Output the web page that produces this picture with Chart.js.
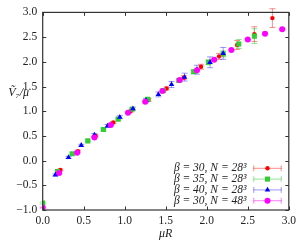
<!DOCTYPE html>
<html><head><meta charset="utf-8">
<script src="https://cdn.jsdelivr.net/npm/chart.js@4/dist/chart.umd.min.js"></script>
<style>html,body{margin:0;padding:0;background:#fff;}canvas{display:block;}</style>
</head><body>
<canvas id="c" width="300" height="240"></canvas>
<script>
// ---- data ----
const xTicks = [0, 0.5, 1, 1.5, 2, 2.5, 3];
const xTickLabels = ['0.0', '0.5', '1.0', '1.5', '2.0', '2.5', '3.0'];
const yTicks = [-1, -0.5, 0, 0.5, 1, 1.5, 2, 2.5, 3];
const yTickLabels = ['−1.0', '−0.5', '0.0', '0.5', '1.0', '1.5', '2.0', '2.5', '3.0'];
const xTitle = 'μR';
const yTitle = 'Ṽ₇/μ';
const seriesLabels = ['β = 30, N = 28³', 'β = 35, N = 28³', 'β = 40, N = 28³', 'β = 30, N = 48³'];

const redX   = [0.215, 0.43, 0.645, 0.86, 1.07, 1.29, 1.51, 1.72, 1.93, 2.15, 2.37, 2.58, 2.80];
const redY   = [-0.19, 0.19, 0.50, 0.77, 1.00, 1.23, 1.46, 1.68, 1.90, 2.11, 2.34, 2.56, 2.885];
const redErr = [0.02, 0.02, 0.02, 0.02, 0.02, 0.03, 0.03, 0.04, 0.05, 0.06, 0.09, 0.15, 0.19];

const greenX   = [0.0, 0.18, 0.36, 0.55, 0.74, 0.92, 1.09, 1.28, 1.47, 1.66, 1.84, 2.02, 2.20, 2.39, 2.58];
const greenY   = [-0.86, -0.22, 0.14, 0.40, 0.63, 0.84, 1.04, 1.24, 1.42, 1.62, 1.80, 1.99, 2.16, 2.36, 2.52];
const greenErr = [0.02, 0.02, 0.02, 0.02, 0.02, 0.02, 0.02, 0.03, 0.03, 0.03, 0.04, 0.05, 0.06, 0.09, 0.15];

const blueX   = [0.155, 0.315, 0.47, 0.63, 0.79, 0.94, 1.10, 1.26, 1.41, 1.57, 1.73, 1.88, 2.04, 2.20];
const blueY   = [-0.29, 0.065, 0.31, 0.52, 0.70, 0.88, 1.05, 1.22, 1.34, 1.54, 1.69, 1.84, 1.99, 2.17];
const blueErr = [0.02, 0.02, 0.02, 0.03, 0.03, 0.03, 0.03, 0.04, 0.05, 0.06, 0.08, 0.09, 0.11, 0.12];

const magX   = [0.0, 0.20, 0.42, 0.63, 0.83, 1.04, 1.25, 1.46, 1.67, 1.88, 2.09, 2.30, 2.50, 2.71, 2.92];
const magY   = [-0.95, -0.25, 0.16, 0.47, 0.72, 0.97, 1.19, 1.41, 1.63, 1.83, 2.04, 2.24, 2.45, 2.57, 2.66];
const magErr = [0.01, 0.01, 0.01, 0.01, 0.01, 0.01, 0.01, 0.01, 0.01, 0.01, 0.01, 0.01, 0.01, 0.01, 0.01];

// ---- styles ----
const FONT = '"Liberation Serif", "DejaVu Serif", serif';
const styles = [
  { color: '#ff0000', err: 'rgba(255,0,0,0.45)',   style: 'circle',   r: 2.2 },
  { color: '#33cc33', err: 'rgba(51,204,51,0.5)',  style: 'rect',     r: 3.6 },
  { color: '#0000ff', err: 'rgba(0,0,255,0.4)',    style: 'triangle', r: 3.2 },
  { color: '#ff00ff', err: 'rgba(255,0,255,0.5)',  style: 'circle',   r: 3.0 }
];
const seriesX = [redX, greenX, blueX, magX];
const seriesY = [redY, greenY, blueY, magY];
const seriesE = [redErr, greenErr, blueErr, magErr];

const datasets = seriesLabels.map((lab, i) => ({
  label: lab,
  data: seriesX[i].map((x, j) => ({ x: x, y: seriesY[i][j], e: seriesE[i][j] })),
  showLine: false,
  pointStyle: styles[i].style,
  pointRadius: styles[i].r,
  pointHoverRadius: styles[i].r,
  pointBackgroundColor: styles[i].color,
  pointBorderColor: styles[i].color,
  pointBorderWidth: 0,
  backgroundColor: styles[i].color,
  borderColor: styles[i].color,
  order: 4 - i
}));

function marker(ctx, style, r, x, y, color) {
  ctx.save();
  ctx.fillStyle = color;
  ctx.beginPath();
  if (style === 'circle') {
    ctx.arc(x, y, r, 0, Math.PI * 2);
  } else if (style === 'rect') {
    const s = Math.SQRT1_2 * r;
    ctx.rect(x - s, y - s, 2 * s, 2 * s);
  } else {
    const h = r * 1.5, w = r * Math.sqrt(3) / 2;
    ctx.moveTo(x, y - r);
    ctx.lineTo(x + w * 1.0, y + r / 2);
    ctx.lineTo(x - w * 1.0, y + r / 2);
    ctx.closePath();
  }
  ctx.fill();
  ctx.restore();
}

const errorBars = {
  id: 'errorBars',
  beforeDatasetsDraw(chart) {
    const ctx = chart.ctx, xs = chart.scales.x, ys = chart.scales.y;
    ctx.save();
    ctx.lineWidth = 1;
    chart.data.datasets.forEach((ds, i) => {
      ctx.strokeStyle = styles[i].err;
      ds.data.forEach(p => {
        const px = xs.getPixelForValue(p.x);
        const y1 = ys.getPixelForValue(p.y - p.e);
        const y2 = ys.getPixelForValue(p.y + p.e);
        ctx.beginPath();
        ctx.moveTo(px, y1); ctx.lineTo(px, y2);
        ctx.moveTo(px - 3, y1); ctx.lineTo(px + 3, y1);
        ctx.moveTo(px - 3, y2); ctx.lineTo(px + 3, y2);
        ctx.stroke();
      });
    });
    ctx.restore();
  }
};

const frameAndExtras = {
  id: 'frameAndExtras',
  afterDraw(chart) {
    const ctx = chart.ctx, a = chart.chartArea, xs = chart.scales.x, ys = chart.scales.y;
    ctx.save();
    ctx.strokeStyle = '#333';
    ctx.lineWidth = 1.2;
    ctx.strokeRect(a.left, a.top, a.right - a.left, a.bottom - a.top);
    ctx.lineWidth = 1;
    const tl = 3.5;
    ctx.beginPath();
    xTicks.forEach(v => {
      const px = Math.round(xs.getPixelForValue(v)) + 0.5;
      ctx.moveTo(px, a.bottom); ctx.lineTo(px, a.bottom - tl);
      ctx.moveTo(px, a.top); ctx.lineTo(px, a.top + tl);
    });
    yTicks.forEach(v => {
      const py = Math.round(ys.getPixelForValue(v)) + 0.5;
      ctx.moveTo(a.left, py); ctx.lineTo(a.left + tl, py);
      ctx.moveTo(a.right, py); ctx.lineTo(a.right - tl, py);
    });
    ctx.stroke();

    // axis titles
    ctx.fillStyle = '#222';
    ctx.font = 'italic 12px ' + FONT;
    ctx.textAlign = 'center';
    ctx.textBaseline = 'middle';
    ctx.fillText(xTitle, (a.left + a.right) / 2, 233.5);
    ctx.textAlign = 'right';
    ctx.fillText(yTitle, 29, 93);

    // legend
    const rowY0 = 168.3, dy = 10.8, textRight = 246.5, lx1 = 253.3, lx2 = 281.7, mx = 267.5;
    ctx.font = 'italic 11.5px ' + FONT;
    ctx.textAlign = 'right';
    seriesLabels.forEach((lab, i) => {
      const y = rowY0 + i * dy;
      ctx.fillStyle = '#222';
      ctx.fillText(lab, textRight, y);
      ctx.strokeStyle = styles[i].err;
      ctx.lineWidth = 1;
      ctx.beginPath();
      ctx.moveTo(lx1, y); ctx.lineTo(lx2, y);
      ctx.moveTo(lx1 + 0.5, y - 3); ctx.lineTo(lx1 + 0.5, y + 3);
      ctx.moveTo(lx2 - 0.5, y - 3); ctx.lineTo(lx2 - 0.5, y + 3);
      ctx.stroke();
      marker(ctx, styles[i].style, styles[i].r, mx, y, styles[i].color);
    });
    ctx.restore();
  }
};

new Chart(document.getElementById('c'), {
  type: 'scatter',
  data: { datasets: datasets },
  options: {
    responsive: false,
    animation: false,
    events: [],
    layout: { autoPadding: false, padding: { left: 0, right: 6.7, top: 4.8, bottom: 0 } },
    plugins: { legend: { display: false }, tooltip: { enabled: false } },
    scales: {
      x: {
        type: 'linear', min: 0, max: 3,
        afterFit(s) { s.height = 30; },
        afterBuildTicks(s) { s.ticks = xTicks.map(v => ({ value: v })); },
        ticks: {
          padding: 4, color: '#222', maxRotation: 0, autoSkip: false,
          font: { family: FONT, size: 11.5 },
          callback: (v) => xTickLabels[xTicks.indexOf(v)]
        },
        grid: { display: false, drawTicks: false },
        border: { display: false }
      },
      y: {
        type: 'linear', min: -1, max: 3,
        afterFit(s) { s.width = 42.7; },
        afterBuildTicks(s) { s.ticks = yTicks.map(v => ({ value: v })); },
        ticks: {
          padding: 5.5, color: '#222', autoSkip: false,
          font: { family: FONT, size: 11.5 },
          callback: (v) => yTickLabels[yTicks.indexOf(v)]
        },
        grid: { display: false, drawTicks: false },
        border: { display: false }
      }
    }
  },
  plugins: [errorBars, frameAndExtras]
});
</script>
</body></html>
